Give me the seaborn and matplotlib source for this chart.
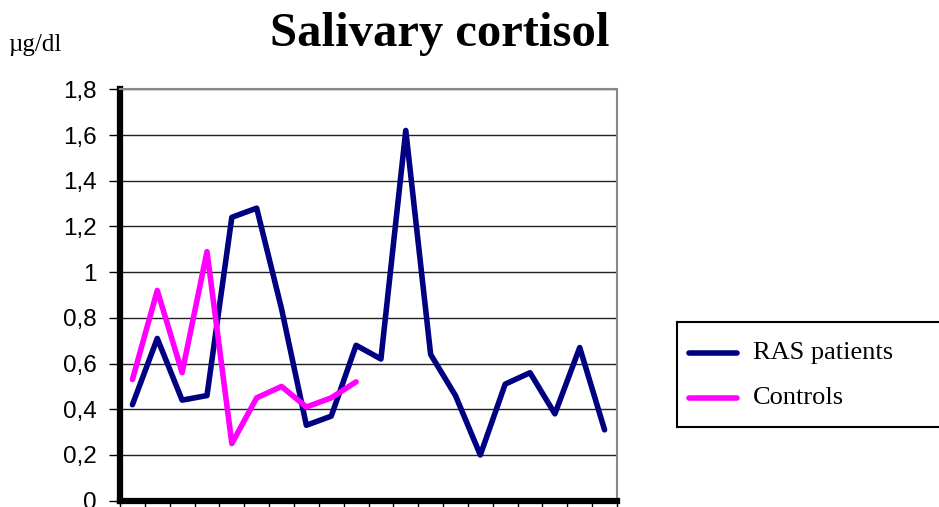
import pandas as pd
import matplotlib
matplotlib.use("Agg")
import matplotlib.pyplot as plt
import seaborn as sns

# values (µg/dl)
ras_patients = [0.42, 0.71, 0.44, 0.46, 1.24, 1.28, 0.84, 0.33, 0.37, 0.68,
                0.62, 1.62, 0.64, 0.46, 0.20, 0.51, 0.56, 0.38, 0.67, 0.31]
controls = [0.53, 0.92, 0.56, 1.09, 0.25, 0.45, 0.50, 0.41, 0.45, 0.52]
y_ticks = [0, 0.2, 0.4, 0.6, 0.8, 1.0, 1.2, 1.4, 1.6, 1.8]
y_tick_labels = ["0", "0,2", "0,4", "0,6", "0,8", "1", "1,2", "1,4", "1,6", "1,8"]

df = pd.concat([
    pd.DataFrame({"sample": range(len(ras_patients)), "cortisol": ras_patients, "group": "RAS patients"}),
    pd.DataFrame({"sample": range(len(controls)), "cortisol": controls, "group": "Controls"}),
])

sns.set_style("white")
plt.rcParams["font.family"] = ["Liberation Sans", "DejaVu Sans"]
plt.rcParams["text.color"] = "black"
plt.rcParams["xtick.color"] = "black"
plt.rcParams["ytick.color"] = "black"

fig = plt.figure(figsize=(9.39, 5.07), dpi=100)
ax = fig.add_axes([120 / 939, 6.3 / 507, 497 / 939, 411.4 / 507])

sns.lineplot(ax=ax, data=df, x="sample", y="cortisol", hue="group",
             palette={"RAS patients": "#000080", "Controls": "#FF00FF"},
             linewidth=4.0, legend=False)

# gridlines
for t in y_ticks[1:]:
    ax.axhline(t, color="#222222", linewidth=1.0, zorder=0)

ax.set_xlim(-0.5, 19.5)
ax.set_ylim(0, 1.8)
ax.set_yticks(y_ticks)
ax.set_yticklabels(y_tick_labels, fontsize=17.5)
ax.set_xticks([i - 0.5 for i in range(21)])
ax.set_xticklabels([])
ax.tick_params(axis="y", direction="out", length=8, width=1, pad=9, left=True)
ax.tick_params(axis="x", direction="out", length=6, width=1, bottom=True)
ax.set_xlabel("")
ax.set_ylabel("")

for side in ["left", "bottom"]:
    ax.spines[side].set_color("black")
    ax.spines[side].set_linewidth(4.5)
for side in ["top", "right"]:
    ax.spines[side].set_color("#888888")
    ax.spines[side].set_linewidth(1.5)

serif = ["Liberation Serif", "DejaVu Serif"]
fig.text(440 / 939, 1 - 34 / 507, "Salivary cortisol", ha="center", va="center",
         fontsize=35, fontweight="bold", family=serif)
fig.text(8 / 939, 1 - 45 / 507, "µg/dl", ha="left", va="center", fontsize=18, family=serif)

# legend box
lax = fig.add_axes([677 / 939, 1 - 427 / 507, 270 / 939, 105 / 507])
lax.set_xlim(0, 270)
lax.set_ylim(105, 0)
lax.set_xticks([])
lax.set_yticks([])
for side in lax.spines.values():
    side.set_color("black")
    side.set_linewidth(1.5)
lax.plot([12, 60], [31, 31], color="#000080", linewidth=4.0)
lax.plot([12, 60], [76, 76], color="#FF00FF", linewidth=4.0)
lax.text(76, 31, "RAS patients", va="center", fontsize=19, family=serif)
lax.text(76, 76, "Controls", va="center", fontsize=19, family=serif)

fig.savefig("out.png", dpi=100)
